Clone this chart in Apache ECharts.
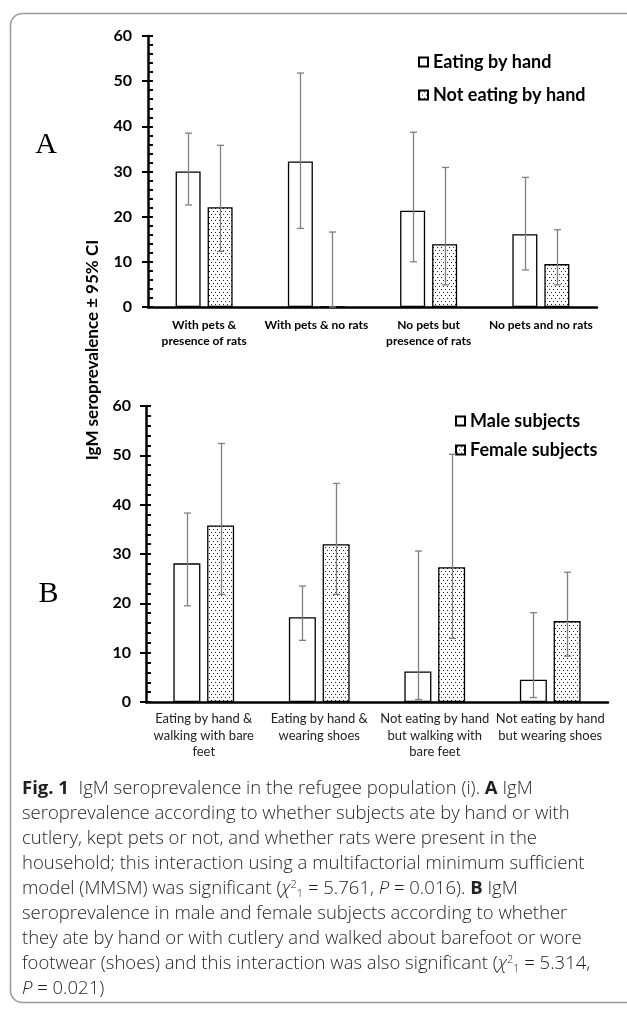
<!DOCTYPE html>
<html>
<head>
<meta charset="utf-8">
<script src="https://cdn.jsdelivr.net/npm/echarts@6/dist/echarts.min.js"></script>
<style>
html,body{margin:0;padding:0;background:#fff;}
#chart{width:627px;height:1012px;}
</style>
</head>
<body>
<div id="chart"></div>
<script>
// ---- Data ----
const catsA = ['With pets &\npresence of rats', 'With pets & no rats', 'No pets but\npresence of rats', 'No pets and no rats'];
const eatHand = [30.0, 32.2, 21.3, 16.1];
const eatHandLo = [22.6, 17.4, 10.0, 8.2];
const eatHandHi = [38.5, 51.8, 38.7, 28.7];
const notEatHand = [22.1, 0, 13.9, 9.5];
const notEatHandLo = [12.3, 0, 4.9, 4.9];
const notEatHandHi = [35.8, 16.6, 30.9, 17.1];

const catsB = ['Eating by hand &\nwalking with bare\nfeet', 'Eating by hand &\nwearing shoes', 'Not eating by hand\nbut walking with\nbare feet', 'Not eating by hand\nbut wearing shoes'];
const male = [28.1, 17.2, 6.2, 4.5];
const maleLo = [19.5, 12.5, 0.5, 0.9];
const maleHi = [38.3, 23.5, 30.6, 18.1];
const female = [35.8, 32.0, 27.3, 16.4];
const femaleLo = [21.8, 21.8, 12.9, 9.3];
const femaleHi = [52.4, 44.3, 50.2, 26.3];

const yTicks = [0, 60, 10];

// ---- Pattern ----
const pc = document.createElement('canvas');
pc.width = 4; pc.height = 6;
const pctx = pc.getContext('2d');
pctx.fillStyle = '#fff'; pctx.fillRect(0, 0, 4, 6);
pctx.fillStyle = '#222';
pctx.fillRect(1, 1, 1, 1);
pctx.fillRect(3, 4, 1, 1);
const dotFill = { image: pc, repeat: 'repeat' };

const FONT = 'Lato';
const errStyle = { stroke: '#808080', lineWidth: 1.3 };

function errRender(offset) {
  return function (params, api) {
    const x = api.value(0);
    const lo = api.coord([x, api.value(1)]);
    const hi = api.coord([x, api.value(2)]);
    const cx = Math.round(lo[0] + offset) + 0.5;
    const w = 3.5;
    return {
      type: 'group',
      children: [
        { type: 'line', shape: { x1: cx, y1: hi[1], x2: cx, y2: lo[1] }, style: errStyle },
        { type: 'line', shape: { x1: cx - w, y1: hi[1], x2: cx + w, y2: hi[1] }, style: errStyle },
        { type: 'line', shape: { x1: cx - w, y1: lo[1], x2: cx + w, y2: lo[1] }, style: errStyle }
      ]
    };
  };
}
function errData(lo, hi) { return lo.map((v, i) => [i, v, hi[i]]); }

function yAxes(g, margin) {
  return [
    { type: 'value', gridIndex: g, position: 'left', min: yTicks[0], max: yTicks[1], interval: yTicks[2],
      axisLine: { show: true, lineStyle: { color: '#000', width: 2.5 } },
      axisTick: { show: true, length: 6, lineStyle: { color: '#000', width: 2 } },
      axisLabel: { fontFamily: FONT, fontWeight: 'bold', fontSize: 16, color: '#000', margin: margin },
      splitLine: { show: false } },
    { type: 'value', gridIndex: g, position: 'left', min: yTicks[0], max: yTicks[1], interval: 2,
      axisLine: { show: false },
      axisTick: { show: true, inside: true, length: 5, lineStyle: { color: '#000', width: 2 } },
      axisLabel: { show: false }, splitLine: { show: false } }
  ];
}

const barBorder = { borderColor: '#000', borderWidth: 1.3 };
const bwA = 25, gapA = 7, bwB = 27, gapB = 6.75;

const chart = echarts.init(document.getElementById('chart'), null, { renderer: 'canvas' });

const CF = 'Open Sans', CS = 18.5, CC = '#231f20';
const captionBase = { fontFamily: CF, fontSize: CS, fontWeight: 300, fill: CC };
const rich = {
  b: { fontFamily: CF, fontSize: CS, fontWeight: 'bold', color: CC },
  i: { fontFamily: CF, fontSize: CS, fontWeight: 300, fontStyle: 'italic', color: CC },
  sup: { fontFamily: CF, fontSize: 11, fontWeight: 300, color: CC, padding: [0, 0, 9, 0] },
  sub: { fontFamily: CF, fontSize: 11, fontWeight: 300, color: CC, padding: [9, 0, 0, 0] }
};
const captionLines = [
  '{b|Fig. 1}  IgM seroprevalence in the refugee population (i). {b|A} IgM',
  'seroprevalence according to whether subjects ate by hand or with',
  'cutlery, kept pets or not, and whether rats were present in the',
  'household; this interaction using a multifactorial minimum sufficient',
  'model (MMSM) was significant ({i|χ}{sup|2}{sub|1} = 5.761, {i|P} = 0.016). {b|B} IgM',
  'seroprevalence in male and female subjects according to whether',
  'they ate by hand or with cutlery and walked about barefoot or wore',
  'footwear (shoes) and this interaction was also significant ({i|χ}{sup|2}{sub|1} = 5.314,',
  '{i|P} = 0.021)'
];
const captionGraphics = captionLines.map((t, i) => ({
  type: 'text', x: 22, y: 789 + i * 25,
  style: Object.assign({ text: t, rich: rich, verticalAlign: 'middle' }, captionBase)
}));

chart.setOption({
  animation: false,
  backgroundColor: '#fff',
  grid: [
    { left: 148, right: 30, top: 36, height: 271 },
    { left: 146, right: 19, top: 406, height: 296 }
  ],
  legend: [
    { data: ['Eating by hand', 'Not eating by hand'], orient: 'vertical', left: 413, top: 47,
      itemWidth: 9, itemHeight: 9, itemGap: 13, icon: 'rect', selectedMode: false,
      textStyle: { fontFamily: FONT, fontWeight: 'bold', fontSize: 18, lineHeight: 20, color: '#000' } },
    { data: ['Male subjects', 'Female subjects'], orient: 'vertical', left: 450, top: 406,
      itemWidth: 9, itemHeight: 9, itemGap: 9, icon: 'rect', selectedMode: false,
      textStyle: { fontFamily: FONT, fontWeight: 'bold', fontSize: 18, lineHeight: 20, color: '#000' } }
  ],
  xAxis: [
    { type: 'category', gridIndex: 0, data: catsA,
      axisLine: { lineStyle: { color: '#000', width: 2.5 } }, axisTick: { show: false },
      axisLabel: { interval: 0, fontFamily: FONT, fontWeight: 'bold', fontSize: 12, lineHeight: 16, color: '#000', margin: 10 } },
    { type: 'category', gridIndex: 1, data: catsB,
      axisLine: { lineStyle: { color: '#000', width: 2.5 } }, axisTick: { show: false },
      axisLabel: { interval: 0, fontFamily: FONT, fontSize: 13, lineHeight: 16.5, color: '#222', margin: 9 } }
  ],
  yAxis: yAxes(0, 16).concat(yAxes(1, 15)),
  series: [
    { name: 'Eating by hand', type: 'bar', xAxisIndex: 0, yAxisIndex: 0, data: eatHand,
      barWidth: bwA, barGap: (gapA / bwA * 100) + '%', itemStyle: Object.assign({ color: '#fff' }, barBorder) },
    { name: 'Not eating by hand', type: 'bar', xAxisIndex: 0, yAxisIndex: 0, data: notEatHand,
      barWidth: bwA, itemStyle: Object.assign({ color: dotFill }, barBorder) },
    { name: 'errA1', type: 'custom', xAxisIndex: 0, yAxisIndex: 0, z: 5, renderItem: errRender(-(bwA + gapA) / 2),
      encode: { x: 0, y: [1, 2] }, data: errData(eatHandLo, eatHandHi) },
    { name: 'errA2', type: 'custom', xAxisIndex: 0, yAxisIndex: 0, z: 5, renderItem: errRender((bwA + gapA) / 2),
      encode: { x: 0, y: [1, 2] }, data: errData(notEatHandLo, notEatHandHi) },
    { name: 'Male subjects', type: 'bar', xAxisIndex: 1, yAxisIndex: 2, data: male,
      barWidth: bwB, barGap: (gapB / bwB * 100) + '%', itemStyle: Object.assign({ color: '#fff' }, barBorder) },
    { name: 'Female subjects', type: 'bar', xAxisIndex: 1, yAxisIndex: 2, data: female,
      barWidth: bwB, itemStyle: Object.assign({ color: dotFill }, barBorder) },
    { name: 'errB1', type: 'custom', xAxisIndex: 1, yAxisIndex: 2, z: 5, renderItem: errRender(-(bwB + gapB) / 2),
      encode: { x: 0, y: [1, 2] }, data: errData(maleLo, maleHi) },
    { name: 'errB2', type: 'custom', xAxisIndex: 1, yAxisIndex: 2, z: 5, renderItem: errRender((bwB + gapB) / 2),
      encode: { x: 0, y: [1, 2] }, data: errData(femaleLo, femaleHi) }
  ],
  graphic: [
    { type: 'rect', shape: { x: 10.5, y: 13.5, width: 700, height: 989, r: 12 }, silent: true, z: -10,
      style: { fill: 'none', stroke: '#9a9a9a', lineWidth: 1.5 } },
    { type: 'text', x: 93, y: 350, rotation: Math.PI / 2,
      style: { text: 'IgM seroprevalence ± 95% CI', fontFamily: FONT, fontWeight: 'bold', fontSize: 17,
        fill: '#000', align: 'center', verticalAlign: 'middle' } },
    { type: 'text', x: 46, y: 145,
      style: { text: 'A', fontFamily: 'Liberation Serif', fontSize: 30, fill: '#000', align: 'center', verticalAlign: 'middle' } },
    { type: 'text', x: 48.5, y: 594,
      style: { text: 'B', fontFamily: 'Liberation Serif', fontSize: 30, fill: '#000', align: 'center', verticalAlign: 'middle' } }
  ].concat(captionGraphics)
});
</script>
</body>
</html>
